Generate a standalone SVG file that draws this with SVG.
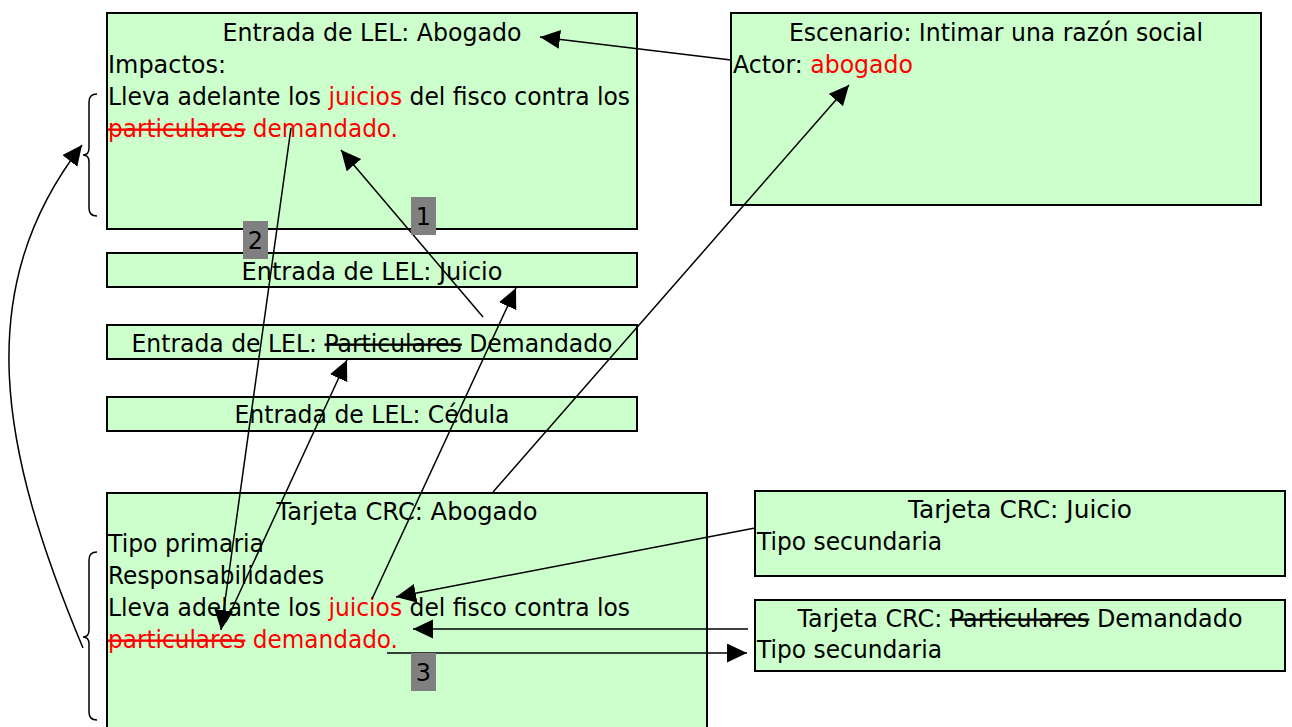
<svg xmlns="http://www.w3.org/2000/svg" width="1292" height="727" viewBox="0 0 1292 727">
<defs>
<style>
.box{fill:#CCFFCC;stroke:#000;stroke-width:2}
.t{font-family:"DejaVu Sans","Verdana",sans-serif;font-size:24px;fill:#000}
.c{text-anchor:middle}
.red{fill:#FF0000}
.st{text-decoration:line-through}
.lbl{fill:#808080}
.con{fill:none;stroke:#000;stroke-width:1.5}
.brace{fill:none;stroke:#000;stroke-width:1.5}
</style>
<marker id="ah" markerUnits="userSpaceOnUse" markerWidth="22" markerHeight="20" refX="20" refY="9.5" orient="auto">
<path d="M0,0 L20,9.5 L0,19 z" fill="#000"/>
</marker>
</defs>
<rect width="1292" height="727" fill="#fff"/>

<g id="lel-abogado">
<rect class="box" x="107" y="13" width="530" height="216"/>
<text class="t c" x="372" y="41" textLength="299" lengthAdjust="spacingAndGlyphs">Entrada de LEL: Abogado</text>
<text class="t" x="108" y="73" textLength="118" lengthAdjust="spacingAndGlyphs">Impactos:</text>
<text class="t" x="108" y="105" textLength="522" lengthAdjust="spacingAndGlyphs">Lleva adelante los <tspan class="red">juicios</tspan> del fisco contra los</text>
<text class="t red" x="108" y="137" textLength="290" lengthAdjust="spacingAndGlyphs"><tspan class="st">particulares</tspan> demandado.</text>
<path class="brace" d="M97,94 Q89,94 89,102 L89,148 Q89,155 83,155 Q89,155 89,162 L89,208 Q89,216 97,216"/>
</g>

<g id="escenario">
<rect class="box" x="731" y="13" width="530" height="192"/>
<text class="t c" x="996" y="41" textLength="414" lengthAdjust="spacingAndGlyphs">Escenario: Intimar una razón social</text>
<text class="t" x="733" y="73" textLength="180" lengthAdjust="spacingAndGlyphs">Actor: <tspan class="red">abogado</tspan></text>
</g>

<g id="lel-juicio">
<rect class="box" x="107" y="253" width="530" height="34"/>
<text class="t c" x="372" y="280" textLength="261" lengthAdjust="spacingAndGlyphs">Entrada de LEL: Juicio</text>
</g>

<g id="lel-demandado">
<rect class="box" x="107" y="325" width="530" height="34"/>
<text class="t c" x="372" y="352" textLength="481" lengthAdjust="spacingAndGlyphs">Entrada de LEL: <tspan class="st">Particulares</tspan> Demandado</text>
</g>

<g id="lel-cedula">
<rect class="box" x="107" y="397" width="530" height="34"/>
<text class="t c" x="372" y="423" textLength="275" lengthAdjust="spacingAndGlyphs">Entrada de LEL: Cédula</text>
</g>

<g id="crc-abogado">
<rect class="box" x="107" y="493" width="600" height="250"/>
<text class="t c" x="407" y="520" textLength="261" lengthAdjust="spacingAndGlyphs">Tarjeta CRC: Abogado</text>
<text class="t" x="108" y="552" textLength="156" lengthAdjust="spacingAndGlyphs">Tipo primaria</text>
<text class="t" x="108" y="584" textLength="216" lengthAdjust="spacingAndGlyphs">Responsabilidades</text>
<text class="t" x="108" y="616" textLength="522" lengthAdjust="spacingAndGlyphs">Lleva adelante los <tspan class="red">juicios</tspan> del fisco contra los</text>
<text class="t red" x="108" y="648" textLength="290" lengthAdjust="spacingAndGlyphs"><tspan class="st">particulares</tspan> demandado.</text>
<path class="brace" d="M97,552 Q89,552 89,560 L89,630 Q89,637 83,637 Q89,637 89,644 L89,712 Q89,720 97,720"/>
</g>

<g id="crc-juicio">
<rect class="box" x="755" y="491" width="530" height="85"/>
<text class="t c" x="1020" y="518" textLength="224" lengthAdjust="spacingAndGlyphs">Tarjeta CRC: Juicio</text>
<text class="t" x="757" y="550" textLength="185" lengthAdjust="spacingAndGlyphs">Tipo secundaria</text>
</g>

<g id="crc-demandado">
<rect class="box" x="755" y="600" width="530" height="71"/>
<text class="t c" x="1020" y="627" textLength="445" lengthAdjust="spacingAndGlyphs">Tarjeta CRC: <tspan class="st">Particulares</tspan> Demandado</text>
<text class="t" x="757" y="658" textLength="185" lengthAdjust="spacingAndGlyphs">Tipo secundaria</text>
</g>

<g id="connectors">
<path class="con" d="M731,60 L540,37" marker-end="url(#ah)"/>
<path class="con" d="M493,492 L849,85" marker-end="url(#ah)"/>
<path class="con" d="M483,317 L341,150" marker-end="url(#ah)"/>
<path class="con" d="M291,128 L221,630" marker-end="url(#ah)"/>
<path class="con" d="M226,622 L347,360" marker-end="url(#ah)"/>
<path class="con" d="M372,599 L516,288" marker-end="url(#ah)"/>
<path class="con" d="M755,528 L396,597" marker-end="url(#ah)"/>
<path class="con" d="M748,629 L413,629" marker-end="url(#ah)"/>
<path class="con" d="M387,653 L747,653" marker-end="url(#ah)"/>
<path class="con" d="M83,648 C0,450 -30,290 82,145" marker-end="url(#ah)"/>
</g>

<g id="labels">
<rect class="lbl" x="411" y="197" width="25" height="38"/>
<text class="t c" x="423.5" y="225">1</text>
<rect class="lbl" x="243" y="221" width="25" height="38"/>
<text class="t c" x="255.5" y="249">2</text>
<rect class="lbl" x="411" y="653" width="25" height="38"/>
<text class="t c" x="423.5" y="681">3</text>
</g>
</svg>
